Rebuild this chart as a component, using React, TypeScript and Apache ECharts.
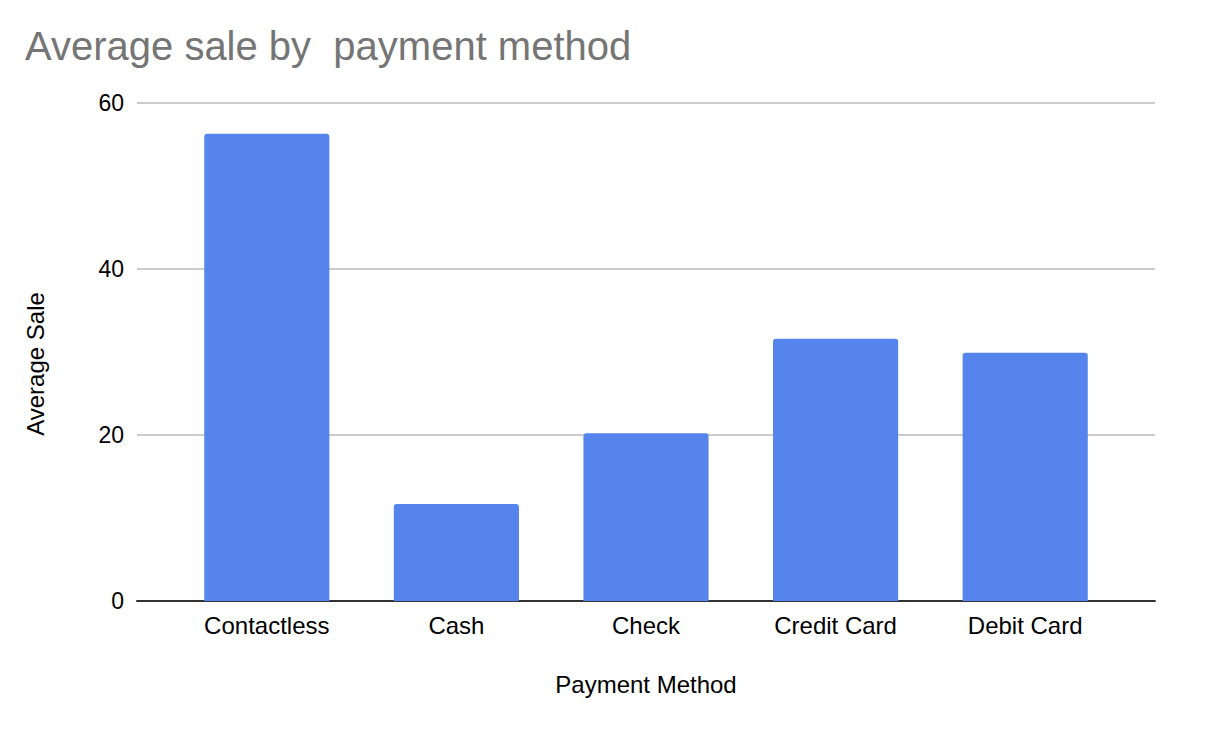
import React, { useEffect, useRef } from "react";
import * as echarts from "echarts";

const categories = ["Contactless", "Cash", "Check", "Credit Card", "Debit Card"];
const averageSale = [56.3, 11.7, 20.2, 31.6, 29.9];
const yTicks = { min: 0, max: 60, interval: 20 };

const FONT = "Arial, 'Liberation Sans', sans-serif";

const App: React.FC = () => {
  const chartRef = useRef<HTMLDivElement>(null);

  useEffect(() => {
    const chart = echarts.init(chartRef.current!, undefined, { renderer: "svg" });

    const option = {
      animation: false,
      backgroundColor: "#ffffff",
      title: {
        text: "Average sale by  payment method",
        left: 20,
        top: 21,
        textStyle: { fontFamily: FONT, fontSize: 40, fontWeight: "normal", color: "#757575" },
      },
      grid: [
        // axis frame and gridlines
        { left: 137, right: 59, top: 103, bottom: 133 },
        // bars sit in a narrower band, like the Sheets chart
        { left: 172, right: 94, top: 103, bottom: 133 },
      ],
      xAxis: [
        {
          gridIndex: 0,
          type: "value",
          min: 0,
          max: 1,
          name: "Payment Method",
          nameLocation: "middle",
          nameGap: 71,
          nameTextStyle: { fontFamily: FONT, fontSize: 24, color: "#000" },
          axisLine: { show: true, lineStyle: { color: "#333333", width: 2 } },
          axisTick: { show: false },
          axisLabel: { show: false },
          splitLine: { show: false },
        },
        {
          gridIndex: 1,
          type: "category",
          data: categories,
          axisLine: { show: false },
          axisTick: { show: false },
          axisLabel: { margin: 12, fontFamily: FONT, fontSize: 24, color: "#000" },
        },
      ],
      yAxis: [
        {
          gridIndex: 0,
          type: "value",
          ...yTicks,
          name: "Average Sale",
          nameLocation: "middle",
          nameGap: 90,
          nameTextStyle: { fontFamily: FONT, fontSize: 24, color: "#000", padding: [0, 24, 0, 0] },
          axisLine: { show: false },
          axisTick: { show: false },
          axisLabel: { margin: 13, fontFamily: FONT, fontSize: 23, color: "#000" },
          splitLine: { lineStyle: { color: "#cccccc", width: 2 } },
        },
        {
          gridIndex: 1,
          type: "value",
          ...yTicks,
          show: false,
        },
      ],
      series: [
        {
          name: "Average Sale",
          type: "bar",
          xAxisIndex: 1,
          yAxisIndex: 1,
          data: averageSale,
          barCategoryGap: "34%",
          itemStyle: { color: "#5484ec", borderRadius: [3, 3, 0, 0] },
          z: 1,
        },
      ],
    };

    chart.setOption(option);
    return () => {
      chart.dispose();
    };
  }, []);

  return (
    <div
      ref={chartRef}
      style={{ position: "fixed", left: 0, top: 0, width: "1214px", height: "734px" }}
    ></div>
  );
};

export default App;
